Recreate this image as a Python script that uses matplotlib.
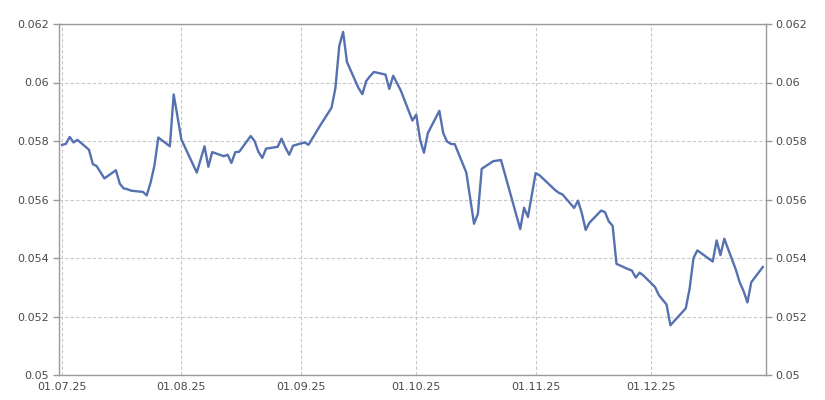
import matplotlib
matplotlib.use("Agg")
import matplotlib.pyplot as plt
import matplotlib.dates as mdates
from matplotlib.ticker import FuncFormatter
import pandas as pd

dates = [
    "2025-07-01", "2025-07-02", "2025-07-03", "2025-07-04", "2025-07-05",
    "2025-07-08", "2025-07-09", "2025-07-10", "2025-07-12", "2025-07-15",
    "2025-07-16", "2025-07-17", "2025-07-18", "2025-07-19", "2025-07-22",
    "2025-07-23", "2025-07-24", "2025-07-25", "2025-07-26", "2025-07-29",
    "2025-07-30", "2025-08-01", "2025-08-05", "2025-08-07", "2025-08-08",
    "2025-08-09", "2025-08-12", "2025-08-13", "2025-08-14", "2025-08-15",
    "2025-08-16", "2025-08-19", "2025-08-20", "2025-08-21", "2025-08-22",
    "2025-08-23", "2025-08-26", "2025-08-27", "2025-08-28", "2025-08-29",
    "2025-08-30", "2025-09-02", "2025-09-03", "2025-09-06", "2025-09-09",
    "2025-09-10", "2025-09-11", "2025-09-12", "2025-09-13", "2025-09-16",
    "2025-09-17", "2025-09-18", "2025-09-19", "2025-09-20", "2025-09-23",
    "2025-09-24", "2025-09-25", "2025-09-27", "2025-09-30", "2025-10-01",
    "2025-10-02", "2025-10-03", "2025-10-04", "2025-10-07", "2025-10-08",
    "2025-10-09", "2025-10-10", "2025-10-11", "2025-10-14", "2025-10-16",
    "2025-10-17", "2025-10-18", "2025-10-21", "2025-10-23", "2025-10-28",
    "2025-10-29", "2025-10-30", "2025-11-01", "2025-11-02", "2025-11-06",
    "2025-11-07", "2025-11-08", "2025-11-11", "2025-11-12", "2025-11-13",
    "2025-11-14", "2025-11-15", "2025-11-18", "2025-11-19", "2025-11-20",
    "2025-11-21", "2025-11-22", "2025-11-25", "2025-11-26", "2025-11-27",
    "2025-11-28", "2025-11-29", "2025-12-02", "2025-12-03", "2025-12-05",
    "2025-12-06", "2025-12-10", "2025-12-11", "2025-12-12", "2025-12-13",
    "2025-12-17", "2025-12-18", "2025-12-19", "2025-12-20", "2025-12-23",
    "2025-12-24", "2025-12-25", "2025-12-26", "2025-12-27", "2025-12-30",
]

values = [
    0.05787, 0.05790, 0.05814, 0.05795, 0.05804,
    0.05770, 0.05721, 0.05714, 0.05672, 0.05700,
    0.05654, 0.05638, 0.05635, 0.05630, 0.05626,
    0.05614, 0.05658, 0.05716, 0.05812, 0.05782,
    0.05959, 0.05805, 0.05692, 0.05782, 0.05712,
    0.05762, 0.05748, 0.05753, 0.05725, 0.05762,
    0.05763, 0.05817, 0.05800, 0.05763, 0.05742,
    0.05774, 0.05780, 0.05808, 0.05778, 0.05753,
    0.05784, 0.05795, 0.05787, 0.05852, 0.05914,
    0.05981, 0.06125, 0.06173, 0.06070, 0.05981,
    0.05960, 0.06005, 0.06022, 0.06036, 0.06027,
    0.05978, 0.06023, 0.05972, 0.05870, 0.05890,
    0.05804, 0.05760, 0.05827, 0.05903, 0.05827,
    0.05798, 0.05790, 0.05789, 0.05692, 0.05517,
    0.05551, 0.05705, 0.05731, 0.05735, 0.05499,
    0.05572, 0.05540, 0.05690, 0.05683, 0.05633,
    0.05623, 0.05617, 0.05571, 0.05596, 0.05553,
    0.05496, 0.05521, 0.05562, 0.05557, 0.05525,
    0.05510, 0.05380, 0.05362, 0.05357, 0.05333,
    0.05350, 0.05340, 0.05301, 0.05273, 0.05241,
    0.05170, 0.05228, 0.05296, 0.05400, 0.05426,
    0.05388, 0.05460, 0.05410, 0.05466, 0.05360,
    0.05317, 0.05287, 0.05248, 0.05317, 0.05369,
]

y_ticks = [0.05, 0.052, 0.054, 0.056, 0.058, 0.06, 0.062]
x_tick_dates = ["2025-07-01", "2025-08-01", "2025-09-01", "2025-10-01",
                "2025-11-01", "2025-12-01"]

x = pd.to_datetime(dates)

fig = plt.figure(figsize=(8.25, 4.0), dpi=100)
ax = fig.add_axes([0.0715, 0.0625, 0.857, 0.8775])

ax.plot(x, values, color="#5571b0", lw=1.7, solid_joinstyle="round")

ax.set_ylim(0.05, 0.062)
ax.set_xlim(pd.Timestamp("2025-06-30 05:00"), pd.Timestamp("2025-12-30 20:00"))
ax.set_yticks(y_ticks)
ax.yaxis.set_major_formatter(FuncFormatter(lambda v, p: f"{v:g}"))
ax.set_xticks(pd.to_datetime(x_tick_dates))
ax.xaxis.set_major_formatter(mdates.DateFormatter("%d.%m.%y"))

ax.grid(True, color="#c8c8c8", linestyle=(0, (3, 2)), linewidth=0.8)
ax.set_axisbelow(True)

for s in ax.spines.values():
    s.set_color("#9a9a9a")
    s.set_linewidth(1.0)

ax.tick_params(axis="both", colors="#9a9a9a", labelcolor="#4a4a4a",
               labelsize=8, length=4, width=1.0, direction="out")
ax.tick_params(axis="y", left=True, right=True, labelleft=True,
               labelright=True, pad=3)
ax.tick_params(axis="x", length=0, pad=5)

fig.savefig("out.png", dpi=100, facecolor="white")
